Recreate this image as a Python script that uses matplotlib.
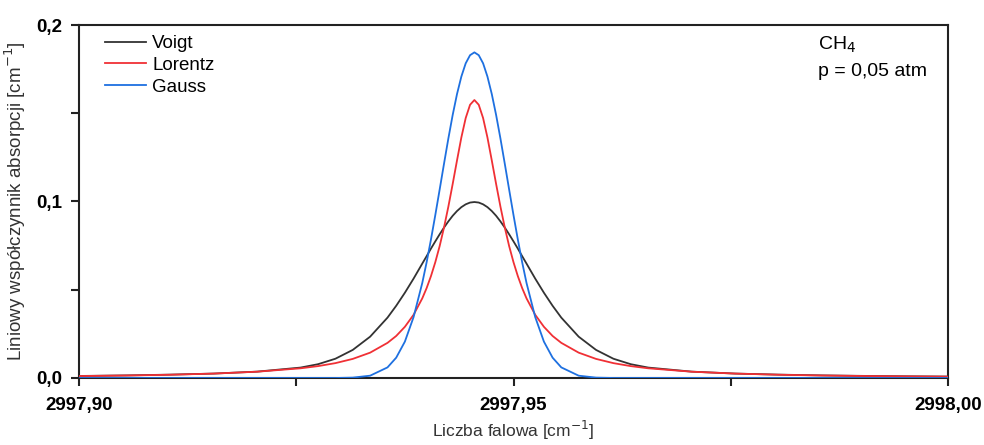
import matplotlib
matplotlib.use("Agg")
import matplotlib.pyplot as plt
from matplotlib.ticker import FixedLocator

plt.rcParams['font.family'] = ['Liberation Sans', 'DejaVu Sans']

wavenumber = [2997.9000, 2997.9055, 2997.9105, 2997.9155, 2997.9205, 2997.9255, 2997.9275,
              2997.9295, 2997.9315, 2997.9335, 2997.9355, 2997.9365, 2997.9375, 2997.9385,
              2997.9395, 2997.9400, 2997.9405, 2997.9410, 2997.9415, 2997.9420, 2997.9425,
              2997.9430, 2997.9435, 2997.9440, 2997.9445, 2997.9450, 2997.9455,
              2997.9460, 2997.9465, 2997.9470, 2997.9475, 2997.9480, 2997.9485, 2997.9490,
              2997.9495, 2997.9500, 2997.9505, 2997.9510, 2997.9515, 2997.9525, 2997.9535,
              2997.9545, 2997.9555, 2997.9575, 2997.9595, 2997.9615, 2997.9635, 2997.9655,
              2997.9705, 2997.9755, 2997.9805, 2997.9855, 2997.9910, 2997.9955, 2998.0000]

voigt = [0.00114, 0.00146, 0.0019, 0.0025, 0.0036, 0.0059, 0.0078, 0.0109, 0.0159, 0.0234,
         0.0342, 0.0409, 0.0483, 0.0563, 0.0648, 0.0690, 0.0733, 0.0774, 0.0814, 0.0852,
         0.0887, 0.0919, 0.0946, 0.0968, 0.0984, 0.0994, 0.0997,
         0.0994, 0.0984, 0.0968, 0.0946, 0.0919, 0.0887, 0.0852, 0.0814, 0.0774, 0.0733,
         0.0690, 0.0648, 0.0563, 0.0483, 0.0409, 0.0342, 0.0234, 0.0159, 0.0109, 0.0078,
         0.0059, 0.0036, 0.0025, 0.0019, 0.00146, 0.00114, 0.00095, 0.0008]

lorentz = [0.00109, 0.00141, 0.00184, 0.00249, 0.00356, 0.00549, 0.00672, 0.00841, 0.01081,
           0.01435, 0.0199, 0.0238, 0.0290, 0.0358, 0.0451, 0.0509, 0.0577, 0.0656, 0.0747,
           0.0852, 0.0970, 0.1099, 0.1233, 0.1363, 0.1473, 0.1548, 0.1575,
           0.1548, 0.1473, 0.1363, 0.1233, 0.1099, 0.0970, 0.0852, 0.0747, 0.0656, 0.0577,
           0.0509, 0.0451, 0.0358, 0.0290, 0.0238, 0.0199, 0.01435, 0.01081, 0.00841,
           0.00672, 0.00549, 0.00356, 0.00249, 0.00184, 0.00141, 0.00109, 0.00090, 0.00076]

gauss = [0, 0, 0, 0, 0, 0, 0, 0, 0.0002, 0.0013, 0.0060, 0.0115, 0.0206, 0.0345, 0.0538,
         0.0655, 0.0784, 0.0923, 0.1067, 0.1213, 0.1356, 0.1490, 0.1609, 0.1708, 0.1783,
         0.1829, 0.1845,
         0.1829, 0.1783, 0.1708, 0.1609, 0.1490, 0.1356, 0.1213, 0.1067, 0.0923, 0.0784,
         0.0655, 0.0538, 0.0345, 0.0206, 0.0115, 0.0060, 0.0013, 0.0002,
         0, 0, 0, 0, 0, 0, 0, 0, 0, 0]

x_major = [2997.90, 2997.95, 2998.00]
x_minor = [2997.925, 2997.975]
x_labels = ["2997,90", "2997,95", "2998,00"]
y_major = [0.0, 0.1, 0.2]
y_minor = [0.05, 0.15]
y_labels = ["0,0", "0,1", "0,2"]

fig = plt.figure(figsize=(9.84, 4.45), dpi=100)
ax = fig.add_axes([0.0803, 0.1506, 0.8831, 0.7932])

ax.plot(wavenumber, voigt, color='#333333', lw=1.3, label='Voigt', zorder=3)
ax.plot(wavenumber, lorentz, color='#f03035', lw=1.3, label='Lorentz', zorder=3)
ax.plot(wavenumber, gauss, color='#1e70e0', lw=1.3, label='Gauss', zorder=3)

ax.set_xlim(2997.90, 2998.00)
ax.set_ylim(0.0, 0.2)
ax.xaxis.set_major_locator(FixedLocator(x_major))
ax.xaxis.set_minor_locator(FixedLocator(x_minor))
ax.set_xticklabels(x_labels)
ax.yaxis.set_major_locator(FixedLocator(y_major))
ax.yaxis.set_minor_locator(FixedLocator(y_minor))
ax.set_yticklabels(y_labels)

for sp in ax.spines.values():
    sp.set_linewidth(1.5)
    sp.set_color('#222222')

ax.tick_params(axis='both', which='both', direction='out', length=6, width=1.5, color='#222222')
ax.tick_params(axis='x', which='major', pad=8, labelsize=13.5)
ax.tick_params(axis='y', which='major', pad=6, labelsize=13.5)
for lab in ax.get_xticklabels() + ax.get_yticklabels():
    lab.set_fontweight('bold')

ax.set_xlabel('Liczba falowa [cm$^{-1}$]', fontsize=12.5, labelpad=3, color='#333333')
ax.set_ylabel('Liniowy współczynnik absorpcji [cm$^{-1}$]', fontsize=13.5, labelpad=6, color='#333333')

leg = ax.legend(loc='upper left', bbox_to_anchor=(0.015, 1.009), frameon=False, fontsize=13.5,
                handlelength=2.2, handletextpad=0.3, labelspacing=0.25, borderaxespad=0.3)

ax.text(0.850, 0.943, 'CH$_4$', transform=ax.transAxes, fontsize=14, va='center', ha='left')
ax.text(0.850, 0.867, 'p = 0,05 atm', transform=ax.transAxes, fontsize=14, va='center', ha='left')

fig.savefig('out.png', dpi=100)
